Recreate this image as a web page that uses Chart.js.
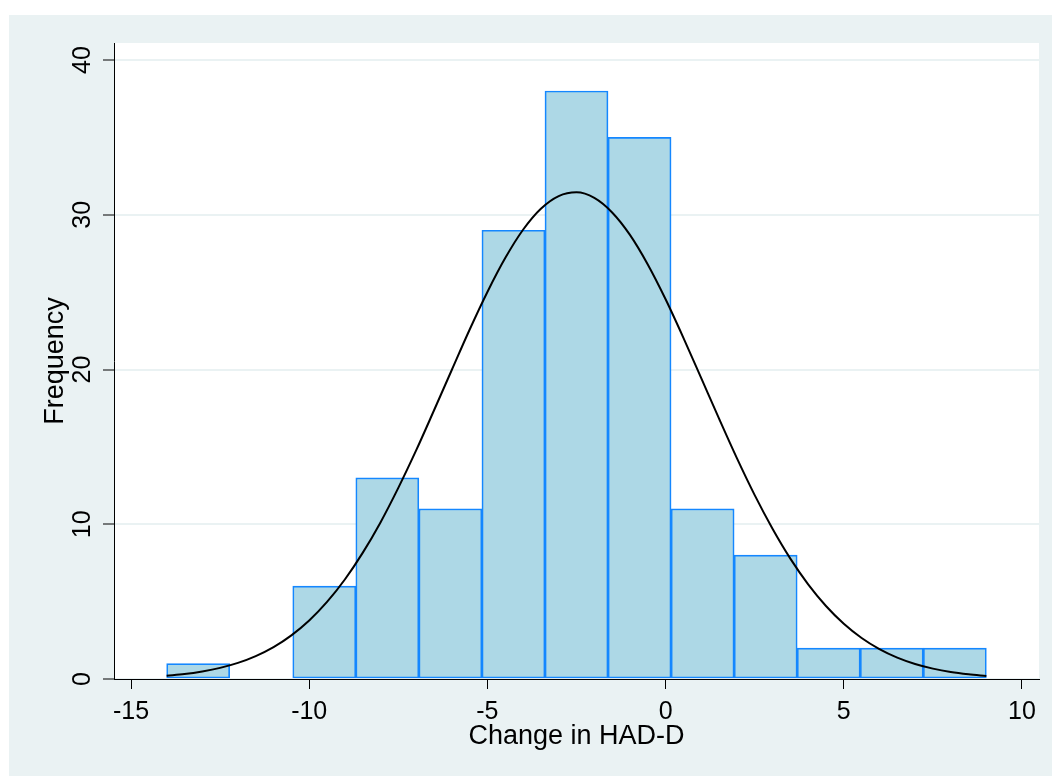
<!DOCTYPE html>
<html><head><meta charset="utf-8">
<script src="https://cdn.jsdelivr.net/npm/chart.js@4"></script>
<style>html,body{margin:0;padding:0;background:#ffffff}canvas{display:block}</style>
</head><body>
<canvas id="c" width="1052" height="776"></canvas>
<script>
// Histogram bin edges and counts
const binEdges = [-14, -12.2308, -10.4615, -8.6923, -6.9231, -5.1538, -3.3846, -1.6154, 0.1538, 1.9231, 3.6923, 5.4615, 7.2308, 9.0];
const frequencies = [1, 0, 6, 13, 11, 29, 38, 35, 11, 8, 2, 2, 2];
// Normal density overlay
const curveX = [-14, -13.5, -13, -12.5, -12, -11.5, -11, -10.5, -10, -9.5, -9, -8.5, -8, -7.5, -7, -6.5, -6, -5.5, -5, -4.5, -4, -3.5, -3, -2.5, -2, -1.5, -1, -0.5, 0, 0.5, 1, 1.5, 2, 2.5, 3, 3.5, 4, 4.5, 5, 5.5, 6, 6.5, 7, 7.5, 8, 8.5, 9];
const curveY = [0.21, 0.32, 0.49, 0.72, 1.04, 1.48, 2.06, 2.82, 3.78, 4.98, 6.43, 8.15, 10.12, 12.35, 14.77, 17.35, 19.97, 22.57, 25.01, 27.2, 29.03, 30.39, 31.21, 31.45, 31.09, 30.15, 28.7, 26.79, 24.54, 22.05, 19.44, 16.82, 14.27, 11.88, 9.71, 7.78, 6.12, 4.72, 3.57, 2.65, 1.93, 1.38, 0.97, 0.67, 0.45, 0.30, 0.19];
const xTickValues = [-15, -10, -5, 0, 5, 10];
const yTickValues = [0, 10, 20, 30, 40];
const xTitle = 'Change in HAD-D';
const yTitle = 'Frequency';

const barData = frequencies.map((f, i) => ({x: (binEdges[i] + binEdges[i + 1]) / 2, y: f}));
const curveData = curveX.map((x, i) => ({x: x, y: curveY[i]}));

const FONT = "'Liberation Sans', Arial, Helvetica, sans-serif";
const BG = '#EAF2F3';

const bgPlugin = {
  id: 'bg',
  beforeDraw(chart) {
    const ctx = chart.ctx, a = chart.chartArea;
    ctx.save();
    ctx.fillStyle = BG;
    ctx.fillRect(9, 15, chart.width - 9, chart.height - 15);
    ctx.fillStyle = '#ffffff';
    ctx.fillRect(a.left, a.top, a.right - a.left, a.bottom - a.top);
    ctx.restore();
  }
};

new Chart(document.getElementById('c'), {
  type: 'bar',
  data: {
    datasets: [
      {
        type: 'line',
        data: curveData,
        borderColor: '#000000',
        borderWidth: 2,
        pointRadius: 0,
        cubicInterpolationMode: 'monotone',
        fill: false,
        order: 0
      },
      {
        type: 'bar',
        data: barData,
        backgroundColor: '#ADD8E6',
        borderColor: '#1487FF',
        borderWidth: 1.7,
        borderSkipped: false,
        barPercentage: 1,
        categoryPercentage: 1,
        grouped: false,
        order: 1
      }
    ]
  },
  options: {
    responsive: false,
    animation: false,
    layout: {padding: {left: 0, top: 43, right: 13, bottom: 0}},
    plugins: {legend: {display: false}, tooltip: {enabled: false}},
    scales: {
      x: {
        type: 'linear',
        offset: false,
        min: -15.477,
        max: 10.477,
        afterBuildTicks(s) { s.ticks = xTickValues.map(v => ({value: v})); },
        afterFit(s) { s.height = 97; },
        grid: {offset: false, drawOnChartArea: false, tickLength: 10, tickColor: '#000000', tickWidth: 1},
        border: {display: true, color: '#000000', width: 1},
        ticks: {color: '#000000', font: {family: FONT, size: 25}, padding: 8, maxRotation: 0, autoSkip: false},
        title: {display: true, text: xTitle, color: '#000000', font: {family: FONT, size: 27}, padding: {top: 0, bottom: 23}}
      },
      y: {
        type: 'linear',
        min: 0,
        max: 41.1,
        afterBuildTicks(s) { s.ticks = yTickValues.map(v => ({value: v})); },
        afterFit(s) { s.width = 114; },
        grid: {drawOnChartArea: true, color: BG, lineWidth: 2, tickLength: 11, tickColor: '#000000', tickWidth: 1},
        border: {display: true, color: '#000000', width: 1},
        ticks: {color: '#000000', font: {family: FONT, size: 25}, padding: 6, minRotation: 90, maxRotation: 90, crossAlign: 'center', autoSkip: false},
        title: {display: true, text: yTitle, color: '#000000', font: {family: FONT, size: 27}, padding: {top: 39, bottom: 0}}
      }
    }
  },
  plugins: [bgPlugin]
});
</script>
</body></html>
